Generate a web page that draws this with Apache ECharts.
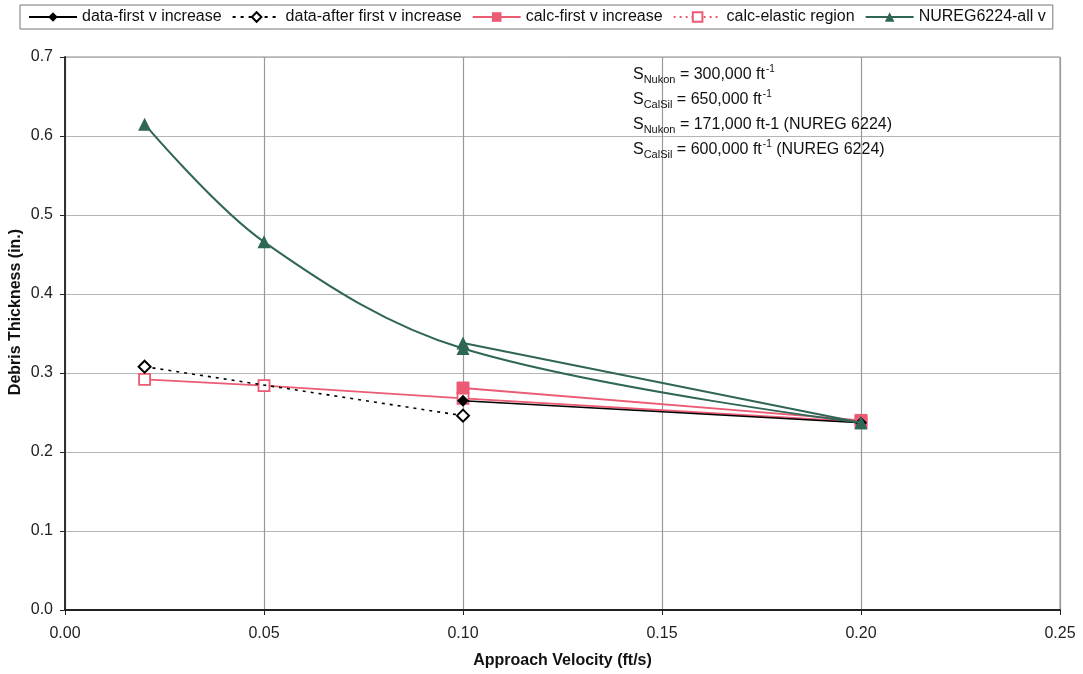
<!DOCTYPE html>
<html>
<head>
<meta charset="utf-8">
<script src="https://cdn.jsdelivr.net/npm/echarts@6/dist/echarts.min.js"></script>
<style>html,body{margin:0;padding:0;background:#fff;}#chart{width:1083px;height:674px;}</style>
</head>
<body>
<div id="chart"></div>
<script>
// Data
const xTicks = [0.00, 0.05, 0.10, 0.15, 0.20, 0.25];
const yTicks = [0.0, 0.1, 0.2, 0.3, 0.4, 0.5, 0.6, 0.7];

const dataFirstX = [0.10, 0.20];
const dataFirstY = [0.265, 0.237];

const dataAfterX = [0.02, 0.10];
const dataAfterY = [0.308, 0.246];

const calcFirstX = [0.10, 0.20];
const calcFirstY = [0.281, 0.240];

const calcElasticX = [0.02, 0.05, 0.10, 0.20];
const calcElasticY = [0.292, 0.284, 0.268, 0.238];

const nuregX = [0.02, 0.05, 0.10, 0.20];
const nuregY = [0.615, 0.466, 0.331, 0.237];
const nuregBX = [0.10, 0.20];
const nuregBY = [0.338, 0.237];

const annotationLines = [
  ['S', 'Nukon', ' = 300,000 ft', '-1', ''],
  ['S', 'CalSil', ' = 650,000 ft', '-1', ''],
  ['S', 'Nukon', ' = 171,000 ft-1 (NUREG 6224)', ' ', ''],
  ['S', 'CalSil', ' = 600,000 ft', '-1', ' (NUREG 6224)']
];

const zip = (xs, ys) => xs.map((x, i) => [x, ys[i]]);

const FONT = '"Liberation Sans", Arial, sans-serif';
const PINK = '#ec5a74';
const TEAL = '#2f6656';

const chart = echarts.init(document.getElementById('chart'), null, {renderer: 'canvas'});

const annotationGraphics = annotationLines.map((l, i) => ({
  type: 'text',
  x: 633,
  y: 75 + i * 25,
  z: 100,
  style: {
    text: '{s|' + l[0] + '}{sub|' + l[1] + '}{t|' + l[2] + '}{sup|' + l[3] + '}' + (l[4] ? '{t|' + l[4] + '}' : ''),
    verticalAlign: 'middle',
    rich: {
      s: {fontSize: 16, fontFamily: FONT, fill: '#111', height: 24, lineHeight: 24, verticalAlign: 'middle'},
      sub: {fontSize: 11, fontFamily: FONT, fill: '#111', height: 24, lineHeight: 24, verticalAlign: 'middle', padding: [10, 0, 0, 0]},
      t: {fontSize: 16, fontFamily: FONT, fill: '#111', height: 24, lineHeight: 24, verticalAlign: 'middle'},
      sup: {fontSize: 10, fontFamily: FONT, fill: '#111', height: 24, lineHeight: 24, verticalAlign: 'middle', padding: [0, 0, 12, 1]}
    }
  }
}));

const option = {
  backgroundColor: '#ffffff',
  animation: false,
  textStyle: {fontFamily: FONT},
  legend: {
    left: 20,
    top: 5,
    width: 1060,
    padding: [4, 7, 4, 8],
    borderColor: '#777',
    borderWidth: 1,
    itemWidth: 48,
    itemHeight: 12,
    itemGap: 10,
    textStyle: {fontSize: 16, fontFamily: FONT, color: '#111', padding: [0, 0, 0, 0]},
    data: [
      {name: 'data-first v increase'},
      {name: 'data-after first v increase'},
      {name: 'calc-first v increase'},
      {name: 'calc-elastic region', lineStyle: {type: [2, 4]}},
      {name: 'NUREG6224-all v'}
    ]
  },
  grid: {
    left: 65, right: 23, top: 57, bottom: 64,
    containLabel: false,
    outerBoundsMode: 'none',
    show: true, borderColor: '#8a8a8a', borderWidth: 1, backgroundColor: '#fff'
  },
  xAxis: {
    type: 'value',
    min: 0, max: 0.25, interval: 0.05,
    name: 'Approach Velocity (ft/s)',
    nameLocation: 'middle',
    nameGap: 43,
    nameTextStyle: {fontSize: 16, fontWeight: 'bold', color: '#111', fontFamily: FONT},
    axisLine: {show: true, onZero: false, lineStyle: {color: '#222', width: 1.8}},
    axisTick: {show: true, length: 5, lineStyle: {color: '#222'}},
    axisLabel: {fontSize: 16, color: '#222', margin: 16, formatter: v => v.toFixed(2), fontFamily: FONT},
    splitLine: {show: true, lineStyle: {color: '#999', width: 1.2}}
  },
  yAxis: {
    type: 'value',
    min: 0, max: 0.7, interval: 0.1,
    axisLine: {show: true, onZero: false, lineStyle: {color: '#222', width: 1.8}},
    axisTick: {show: true, length: 5, lineStyle: {color: '#222'}},
    axisLabel: {fontSize: 16, color: '#222', margin: 12, formatter: v => v.toFixed(1), fontFamily: FONT},
    splitLine: {show: true, lineStyle: {color: '#b5b5b5', width: 1.2}}
  },
  graphic: annotationGraphics.concat([{
    type: 'text',
    x: 16, y: 312,
    rotation: Math.PI / 2,
    style: {
      text: 'Debris Thickness (in.)',
      fontSize: 16, fontWeight: 'bold', fontFamily: FONT, fill: '#111',
      align: 'center', verticalAlign: 'middle'
    }
  }]),
  series: [
    {
      name: 'calc-elastic region', type: 'line', data: zip(calcElasticX, calcElasticY),
      symbol: 'rect', symbolSize: 11,
      color: PINK,
      lineStyle: {color: PINK, width: 1.8, type: 'solid'},
      itemStyle: {color: '#fff', borderColor: PINK, borderWidth: 1.8},
      z: 2
    },
    {
      name: 'calc-first v increase', type: 'line', data: zip(calcFirstX, calcFirstY),
      symbol: 'rect', symbolSize: 12,
      color: PINK,
      lineStyle: {color: PINK, width: 1.8},
      itemStyle: {color: PINK, borderColor: PINK},
      z: 3
    },
    {
      name: 'data-first v increase', type: 'line', data: zip(dataFirstX, dataFirstY),
      symbol: 'diamond', symbolSize: 12,
      color: '#000',
      lineStyle: {color: '#000', width: 1.5},
      itemStyle: {color: '#000'},
      z: 4
    },
    {
      name: 'data-after first v increase', type: 'line', data: zip(dataAfterX, dataAfterY),
      symbol: 'diamond', symbolSize: 12,
      color: '#000',
      lineStyle: {color: '#000', width: 1.6, type: [3, 5]},
      itemStyle: {color: '#fff', borderColor: '#000', borderWidth: 2},
      z: 4
    },
    {
      name: 'NUREG6224-all v', type: 'line', data: zip(nuregX, nuregY),
      symbol: 'triangle', symbolSize: 13,
      smooth: 0.35,
      color: TEAL,
      lineStyle: {color: TEAL, width: 2},
      itemStyle: {color: TEAL},
      z: 5
    },
    {
      name: 'NUREG6224-all v', type: 'line', data: zip(nuregBX, nuregBY),
      symbol: 'triangle', symbolSize: 13,
      color: TEAL,
      lineStyle: {color: TEAL, width: 2},
      itemStyle: {color: TEAL},
      z: 5
    }
  ]
};
chart.setOption(option);
</script>
</body>
</html>
